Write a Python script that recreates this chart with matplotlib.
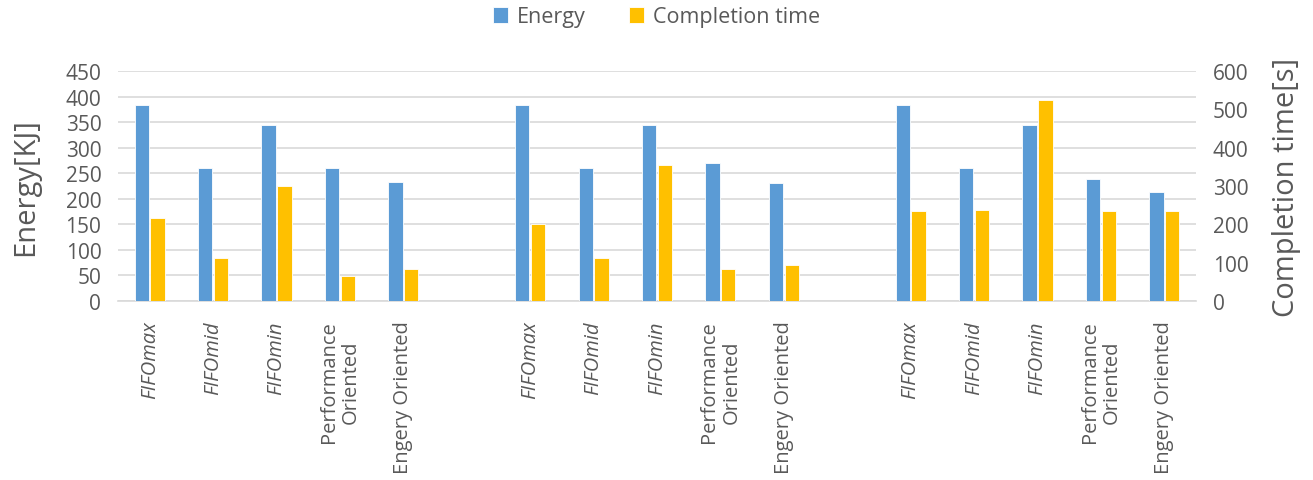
import numpy as np
import matplotlib.pyplot as plt

plt.rcParams['font.family'] = ['Open Sans', 'DejaVu Sans']

labels = ['FIFOmax', 'FIFOmid', 'FIFOmin', 'Performance\nOriented', 'Engery Oriented']
italic = [True, True, True, False, False]

energy_g1 = [383, 261, 344, 261, 233]
energy_g2 = [383, 261, 344, 270, 231]
energy_g3 = [383, 261, 344, 238, 213]

ctime_g1 = [217, 113, 301, 66, 84]
ctime_g2 = [200, 113, 354, 84, 93]
ctime_g3 = [234, 237, 525, 234, 234]

energy = energy_g1 + [np.nan] + energy_g2 + [np.nan] + energy_g3
ctime = ctime_g1 + [np.nan] + ctime_g2 + [np.nan] + ctime_g3
x = np.arange(len(energy))

blue = '#5B9BD5'
yellow = '#FFC000'
grey = '#595959'

fig = plt.figure(figsize=(13.13, 4.81), dpi=100)
ax = fig.add_axes([118/1313, 1 - 302/481, (1196 - 118)/1313, 230/481])
ax2 = ax.twinx()

w = 0.225
ax.bar(x - 0.125, energy, w, color=blue, edgecolor='white', linewidth=0.6, zorder=3, label='Energy')
ax2.bar(x + 0.125, ctime, w, color=yellow, edgecolor='white', linewidth=0.6, zorder=3, label='Completion time')

ax.set_xlim(-0.5, len(x) - 0.5)
ax.set_ylim(0, 450)
ax.set_yticks(np.arange(0, 451, 50))
ax2.set_ylim(0, 600)
ax2.set_yticks(np.arange(0, 601, 100))
ax.yaxis.grid(True, color='#d9d9d9', linewidth=1.2, zorder=0)
ax.set_axisbelow(True)

for a in (ax, ax2):
    for s in a.spines.values():
        s.set_visible(False)
    a.tick_params(length=0, labelsize=15, labelcolor=grey)
ax.spines['bottom'].set_visible(True)
ax.spines['bottom'].set_color('#d9d9d9')
ax.spines['bottom'].set_linewidth(1.2)
ax.tick_params(axis='y', pad=12)
ax2.tick_params(axis='y', pad=12)

ticks = [i for i in x if not np.isnan(energy[i])]
ax.set_xticks(ticks)
ax.set_xticklabels(labels * 3, rotation=90, va='top', ha='center', fontsize=14.5,
                   color=grey, multialignment='center', linespacing=1.15)
for t, it in zip(ax.get_xticklabels(), italic * 3):
    if it:
        t.set_style('italic')
ax.tick_params(axis='x', pad=14)

ax.set_ylabel('Energy[KJ]', fontsize=21, color=grey, labelpad=18)
ax2.set_ylabel('Completion time[s]', fontsize=21, color=grey, labelpad=17)

h1, l1 = ax.get_legend_handles_labels()
h2, l2 = ax2.get_legend_handles_labels()
fig.legend(h1 + h2, l1 + l2, loc='center', bbox_to_anchor=(0.5, 1 - 18/481), ncol=2,
           frameon=False, fontsize=15.5, labelcolor=grey, handlelength=0.7, handleheight=0.7,
           columnspacing=2.0, handletextpad=0.4)

fig.savefig('out.png', dpi=100)
